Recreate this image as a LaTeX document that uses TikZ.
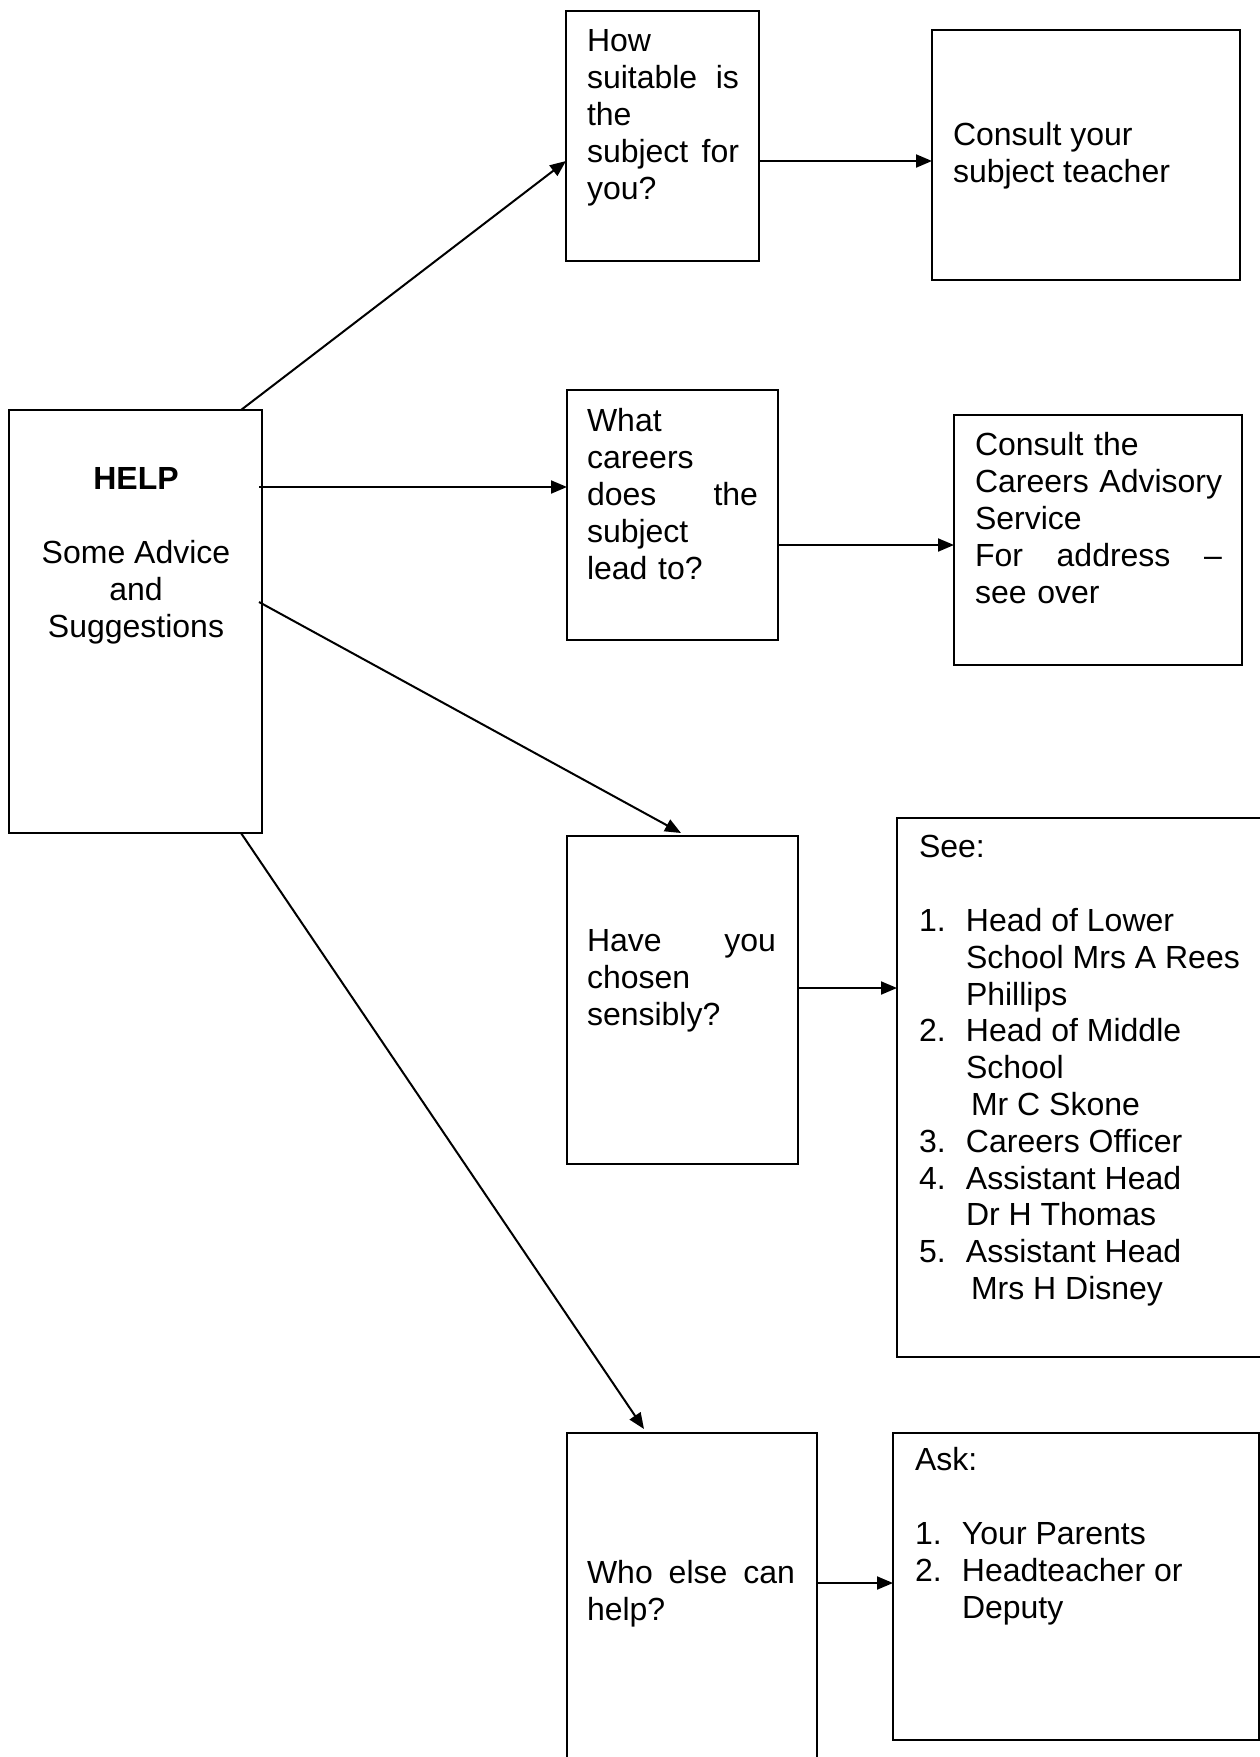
\documentclass[tikz,border=0pt]{standalone}
\usepackage{fontspec}
\setmainfont{Liberation Sans}
\usetikzlibrary{arrows.meta,calc}
\begin{document}
\hyphenpenalty=10000
\exhyphenpenalty=10000
\begin{tikzpicture}[x=1pt,y=-1pt,
  box/.style={draw,line width=2pt,rectangle,inner sep=0pt,outer sep=0pt,anchor=north west},
  txt/.style={anchor=north west,inner sep=0pt,outer sep=0pt,align=left,font=\fontsize{32}{36.8}\selectfont},
  arr/.style={line width=2pt,-{Triangle[length=16pt,width=13pt]}}]
\useasboundingbox (0,0) rectangle (1260,1757);
\clip (0,0) rectangle (1260,1757);
% boxes
\node[box,minimum width=253pt,minimum height=423pt] (help) at (9,410) {};
\node[box,minimum width=193pt,minimum height=250pt] (suit) at (566,11) {};
\node[box,minimum width=308pt,minimum height=250pt] (cons1) at (932,30) {};
\node[box,minimum width=211pt,minimum height=250pt] (what) at (567,390) {};
\node[box,minimum width=288pt,minimum height=250pt] (cons2) at (954,415) {};
\node[box,minimum width=231pt,minimum height=328pt] (have) at (567,836) {};
\node[box,minimum width=380pt,minimum height=539pt] (see) at (897,818) {};
\node[box,minimum width=250pt,minimum height=360pt] (who) at (567,1433) {};
\node[box,minimum width=366pt,minimum height=307pt] (ask) at (893,1433) {};
% texts
\node[txt,anchor=north,align=center] (thelp) at (136,464.2) {\strut\textbf{HELP}\\[36.8pt]Some Advice\\and\\Suggestions};
\node[txt,text width=152pt] (tsuit) at (587,26.2) {\strut How\\suitable\hfill is\\the\\subject\hfill for\\you?};
\node[txt] (tcons1) at (953,120.2) {\strut Consult your\\subject teacher};
\node[txt,text width=171pt] (twhat) at (587,406.2) {\strut What\\careers\\does\hfill the\\subject\\lead to?};
\node[txt,text width=247pt] (tcons2) at (975,430.2) {\strut Consult the\\\mbox{Careers Advisory}\\Service\\For\hfill address\hfill --\hspace*{2pt}\\see over};
\node[txt,text width=189pt] (thave) at (587,926.2) {\strut Have\hfill you\\chosen\\sensibly?};
\node[txt] (tsee) at (919,832.2) {\strut See:\\[36.8pt]%
\makebox[47pt][l]{1.}Head of Lower\\
\hspace*{47pt}School Mrs A Rees\\
\hspace*{47pt}Phillips\\
\makebox[47pt][l]{2.}Head of Middle\\
\hspace*{47pt}School\\
\hspace*{52pt}Mr C Skone\\
\makebox[47pt][l]{3.}Careers Officer\\
\makebox[47pt][l]{4.}Assistant Head\\
\hspace*{47pt}Dr H Thomas\\
\makebox[47pt][l]{5.}Assistant Head\\
\hspace*{52pt}Mrs H Disney};
\node[txt,text width=208pt] (twho) at (587,1558.2) {\strut Who\hfill else\hfill can\\help?};
\node[txt] (task) at (915,1445.2) {\strut Ask:\\[36.8pt]%
\makebox[47pt][l]{1.}Your Parents\\
\makebox[47pt][l]{2.}Headteacher or\\
\hspace*{47pt}Deputy};
% connectors
\draw[arr] ($(help.north west)+(232,0)$) -- ($(suit.north west)+(0,150)$);
\draw[arr] ($(help.north east)+(-3,77)$) -- ($(what.north west)+(0,97)$);
\draw[arr] ($(help.north east)+(-3,192)$) -- ($(have.north west)+(114,-3)$);
\draw[arr] ($(help.south west)+(232,0)$) -- ($(who.north west)+(77,-4)$);
\draw[arr] ($(suit.north east)+(0,150)$) -- ($(cons1.north west)+(0,131)$);
\draw[arr] ($(what.north east)+(0,155)$) -- ($(cons2.north west)+(0,130)$);
\draw[arr] ($(have.north east)+(0,152)$) -- ($(see.north west)+(0,170)$);
\draw[arr] ($(who.north east)+(0,150)$) -- ($(ask.north west)+(0,150)$);
\end{tikzpicture}
\end{document}
